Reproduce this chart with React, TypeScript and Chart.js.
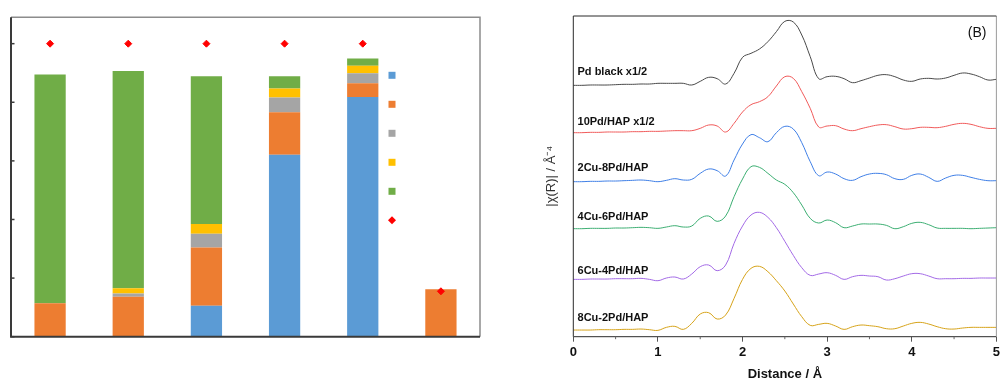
import React, { useEffect, useRef } from 'react';
import { Chart, registerables } from 'chart.js';

Chart.register(...registerables);

const FONT = '"Liberation Sans", Arial, Helvetica, sans-serif';

// ---------------- Left panel (stacked bars) ----------------
const catalysts = ['10Pd/HAP', '2Cu-8Pd/HAP', '4Cu-6Pd/HAP', '6Cu-4Pd/HAP', '8Cu-2Pd/HAP', '10Cu/HAP'];
const barSeriesNames = ['Product 1', 'Product 2', 'Product 3', 'Product 4', 'Product 5'];
const seriesBlue = [0, 0, 10.6, 62.1, 81.8, 0];
const seriesOrange = [11.4, 13.6, 19.8, 14.5, 4.7, 16.2];
const seriesGray = [0, 1.1, 4.7, 5.0, 3.4, 0];
const seriesYellow = [0, 1.8, 3.4, 3.1, 2.6, 0];
const seriesGreen = [78.1, 74.2, 50.4, 4.2, 2.4, 0];
const barColors = ['#5B9BD5', '#ED7D31', '#A5A5A5', '#FFC000', '#70AD47'];
const selectivityName = 'Selectivity';
const selectivity = [100, 100, 100, 100, 100, 15.5];
const leftTickValues = [0, 20, 40, 60, 80, 100];

// ---------------- Right panel (EXAFS FT curves) ----------------
const R = [
  0, 0.1, 0.2, 0.3, 0.4, 0.5, 0.6, 0.7, 0.8, 0.9, 1.0,
  1.1, 1.2, 1.3, 1.4, 1.5, 1.6, 1.7, 1.8, 1.9,
  2.0, 2.1, 2.2, 2.3, 2.4, 2.5, 2.6, 2.7, 2.8, 2.9,
  3.0, 3.1, 3.2, 3.3, 3.4, 3.5, 3.6, 3.7, 3.8, 3.9,
  4.0, 4.1, 4.2, 4.3, 4.4, 4.5, 4.6, 4.7, 4.8, 4.9, 5.0,
];
const pdBlack = [
  754, 754, 755, 755, 755, 756, 757, 757, 758, 758, 760,
  760, 760, 760, 755, 766, 778, 774, 758, 790,
  838, 850, 863, 885, 915, 946, 944, 905, 840, 774,
  780, 781, 774, 762, 768, 776, 784, 786, 780, 770,
  766, 773, 775, 773, 776, 784, 791, 788, 780, 770, 772,
];
const pd10 = [
  612, 612, 613, 613, 614, 614, 614, 615, 615, 616, 616,
  617, 618, 618, 618, 625, 635, 632, 614, 640,
  674, 696, 705, 720, 752, 780, 775, 735, 685, 629,
  632, 633, 623, 618, 624, 630, 635, 636, 630, 623,
  624, 628, 628, 627, 631, 637, 640, 637, 630, 625, 625,
];
const cu2pd8 = [
  465, 465, 466, 466, 467, 467, 468, 469, 470, 468, 465,
  469, 474, 470, 472, 490, 503, 498, 482, 530,
  578, 606, 597, 585, 612, 631, 623, 582, 525, 483,
  494, 488, 474, 469, 480, 488, 490, 486, 474, 472,
  484, 488, 478, 466, 476, 484, 484, 478, 472, 468, 468,
];
const cu4pd6 = [
  324, 324, 325, 325, 325, 326, 326, 327, 328, 327, 325,
  329, 333, 329, 332, 355, 362, 346, 362, 420,
  473, 510, 508, 490, 470, 457, 432, 395, 355, 341,
  350, 342, 327, 332, 338, 338, 338, 334, 324, 330,
  340, 343, 336, 326, 325, 325, 325, 324, 325, 326, 327,
];
const cu6pd4 = [
  172, 172, 173, 173, 173, 174, 174, 174, 175, 172, 168,
  176, 179, 173, 188, 210, 215, 198, 215, 280,
  332, 365, 373, 358, 327, 286, 244, 207, 184, 188,
  192, 184, 172, 180, 184, 182, 180, 170, 174, 182,
  189, 189, 182, 174, 174, 174, 175, 175, 176, 176, 176,
];
const cu8pd2 = [
  20, 20, 20, 21, 21, 21, 22, 22, 23, 21, 19,
  28, 31, 22, 40, 68, 72, 53, 65, 115,
  172, 205, 211, 195, 168, 137, 98, 60, 34, 37,
  40, 32, 22, 30, 35, 33, 30, 24, 24, 32,
  40, 43, 38, 30, 24, 23, 26, 28, 28, 28, 28,
];
const curveNames = ['Pd black x1/2', '10Pd/HAP x1/2', '2Cu-8Pd/HAP', '4Cu-6Pd/HAP', '6Cu-4Pd/HAP', '8Cu-2Pd/HAP'];
const curveValues = [pdBlack, pd10, cu2pd8, cu4pd6, cu6pd4, cu8pd2];
const curveColors = ['#4a4a4a', '#f05a5a', '#3f7fe6', '#3cae72', '#a36ae6', '#d6a31a'];
const curveLabelX = 0.05;
const curveLabelY = [795, 643, 507, 358, 198, 55];
const minorTickValues = [0.5, 1.5, 2.5, 3.5, 4.5];
const panelTag = '(B)';
const xTitle = 'Distance / Å';
const yTitle = '|χ(R)| / Å⁻⁴';

function LeftChart() {
  const ref = useRef<HTMLCanvasElement>(null);
  useEffect(() => {
    const frame = {
      id: 'leftFrame',
      afterDraw(chart: any) {
        const { ctx, chartArea: a, scales } = chart;
        const y = scales.y;
        ctx.save();
        ctx.lineWidth = 1.5;
        ctx.strokeStyle = '#8c8c8c';
        ctx.beginPath();
        ctx.moveTo(a.left, a.top);
        ctx.lineTo(a.right, a.top);
        ctx.lineTo(a.right, a.bottom);
        ctx.stroke();
        ctx.lineWidth = 2;
        ctx.strokeStyle = '#3a3a3a';
        ctx.beginPath();
        ctx.moveTo(a.left, a.top);
        ctx.lineTo(a.left, a.bottom);
        ctx.lineTo(a.right, a.bottom);
        ctx.stroke();
        ctx.lineWidth = 1.5;
        leftTickValues.forEach((v) => {
          const py = y.getPixelForValue(v);
          ctx.beginPath();
          ctx.moveTo(a.left, py);
          ctx.lineTo(a.left + 3.5, py);
          ctx.stroke();
        });
        // legend markers (labels are blank in the reference)
        const lx = a.left + 381;
        let ly = a.top + 58;
        chart.data.datasets.forEach((ds: any) => {
          if (ds.type === 'line') {
            ctx.fillStyle = ds.pointBackgroundColor;
            ctx.beginPath();
            ctx.moveTo(lx, ly - 4);
            ctx.lineTo(lx + 4, ly);
            ctx.lineTo(lx, ly + 4);
            ctx.lineTo(lx - 4, ly);
            ctx.closePath();
            ctx.fill();
          } else {
            ctx.fillStyle = ds.backgroundColor;
            ctx.fillRect(lx - 3.5, ly - 3.5, 7, 7);
          }
          ly += 29;
        });
        ctx.restore();
      },
    };
    const barData = [seriesBlue, seriesOrange, seriesGray, seriesYellow, seriesGreen];
    const chart = new Chart(ref.current as HTMLCanvasElement, {
      type: 'bar',
      data: {
        labels: catalysts,
        datasets: [
          ...barData.map((d, i) => ({
            type: 'bar' as const,
            label: barSeriesNames[i],
            data: d,
            backgroundColor: barColors[i],
            borderWidth: 0,
            stack: 'conv',
            barPercentage: 0.8,
            categoryPercentage: 0.5,
            order: 1,
          })),
          {
            type: 'line' as const,
            label: selectivityName,
            data: selectivity,
            showLine: false,
            pointStyle: 'rectRot',
            pointRadius: 3.5,
            pointBackgroundColor: '#FF0000',
            pointBorderColor: '#FF0000',
            pointBorderWidth: 1,
            stack: 'sel',
            order: 0,
          } as any,
        ],
      },
      options: {
        responsive: false,
        animation: false,
        devicePixelRatio: 1,
        layout: { padding: { left: 11, top: 17.3, right: 30, bottom: 44.3 } },
        plugins: { legend: { display: false }, tooltip: { enabled: false } },
        scales: {
          x: { display: false, stacked: true, offset: true },
          y: { display: false, stacked: true, min: 0, max: 109 },
        },
      },
      plugins: [frame],
    } as any);
    return () => chart.destroy();
  }, []);
  return (
    <canvas
      ref={ref}
      width={510}
      height={381}
      style={{ position: 'absolute', left: 0, top: 0, width: 510, height: 381 }}
    />
  );
}

function RightChart() {
  const ref = useRef<HTMLCanvasElement>(null);
  useEffect(() => {
    const decor = {
      id: 'rightDecor',
      afterDraw(chart: any) {
        const { ctx, chartArea: a, scales } = chart;
        const x = scales.x;
        const y = scales.y;
        ctx.save();
        ctx.lineWidth = 1;
        ctx.strokeStyle = '#9a9a9a';
        ctx.beginPath();
        ctx.moveTo(a.right, a.top);
        ctx.lineTo(a.right, a.bottom);
        ctx.stroke();
        ctx.strokeStyle = '#2b2b2b';
        ctx.beginPath();
        ctx.moveTo(a.right, a.top);
        ctx.lineTo(a.left, a.top);
        ctx.lineTo(a.left, a.bottom);
        ctx.lineTo(a.right, a.bottom);
        ctx.stroke();
        ctx.strokeStyle = '#666';
        minorTickValues.forEach((v) => {
          const px = x.getPixelForValue(v);
          ctx.beginPath();
          ctx.moveTo(px, a.bottom);
          ctx.lineTo(px, a.bottom + 2.5);
          ctx.stroke();
        });
        ctx.fillStyle = '#111';
        ctx.font = `bold 11px ${FONT}`;
        ctx.textAlign = 'left';
        ctx.textBaseline = 'middle';
        curveNames.forEach((n, i) => {
          ctx.fillText(n, x.getPixelForValue(curveLabelX), y.getPixelForValue(curveLabelY[i]));
        });
        ctx.font = `14px ${FONT}`;
        ctx.textAlign = 'right';
        ctx.fillText(panelTag, a.right - 10, a.top + 17);
        ctx.restore();
      },
    };
    const chart = new Chart(ref.current as HTMLCanvasElement, {
      type: 'line',
      data: {
        datasets: curveValues.map((vals, i) => ({
          label: curveNames[i],
          data: R.map((r, k) => ({ x: r, y: vals[k] })),
          borderColor: curveColors[i],
          borderWidth: 1,
          pointRadius: 0,
          tension: 0.4,
          fill: false,
        })),
      },
      options: {
        responsive: false,
        animation: false,
        devicePixelRatio: 1,
        layout: { padding: { left: 0, top: 16, right: 4.3, bottom: 0 } },
        plugins: { legend: { display: false }, tooltip: { enabled: false } },
        scales: {
          x: {
            type: 'linear',
            min: 0,
            max: 5,
            ticks: {
              stepSize: 1,
              color: '#111',
              padding: 3,
              font: { family: FONT, size: 13, weight: 'bold' },
              callback: (v: any) => String(v),
            },
            grid: { drawOnChartArea: false, tickLength: 5, tickColor: '#555', tickWidth: 1 },
            border: { display: false },
            title: {
              display: true,
              text: xTitle,
              color: '#111',
              font: { family: FONT, size: 13, weight: 'bold', lineHeight: 1 },
              padding: { top: 0, bottom: 0 },
            },
            afterFit: (s: any) => {
              s.height = 44.3;
            },
          },
          y: {
            type: 'linear',
            min: 0,
            max: 962,
            ticks: { display: false },
            grid: { display: false },
            border: { display: false },
            title: {
              display: true,
              text: yTitle,
              color: '#333',
              font: { family: FONT, size: 13 },
              padding: { top: 24, bottom: 0 },
            },
            afterFit: (s: any) => {
              s.width = 53.3;
            },
          },
        },
      },
      plugins: [decor],
    } as any);
    return () => chart.destroy();
  }, []);
  return (
    <canvas
      ref={ref}
      width={483}
      height={381}
      style={{ position: 'absolute', left: 520, top: 0, width: 483, height: 381 }}
    />
  );
}

export default function App() {
  return (
    <div
      style={{
        position: 'fixed',
        left: 0,
        top: 0,
        width: 1003,
        height: 381,
        background: '#fff',
        overflow: 'hidden',
        fontFamily: FONT,
      }}
    >
      <LeftChart />
      <RightChart />
    </div>
  );
}
